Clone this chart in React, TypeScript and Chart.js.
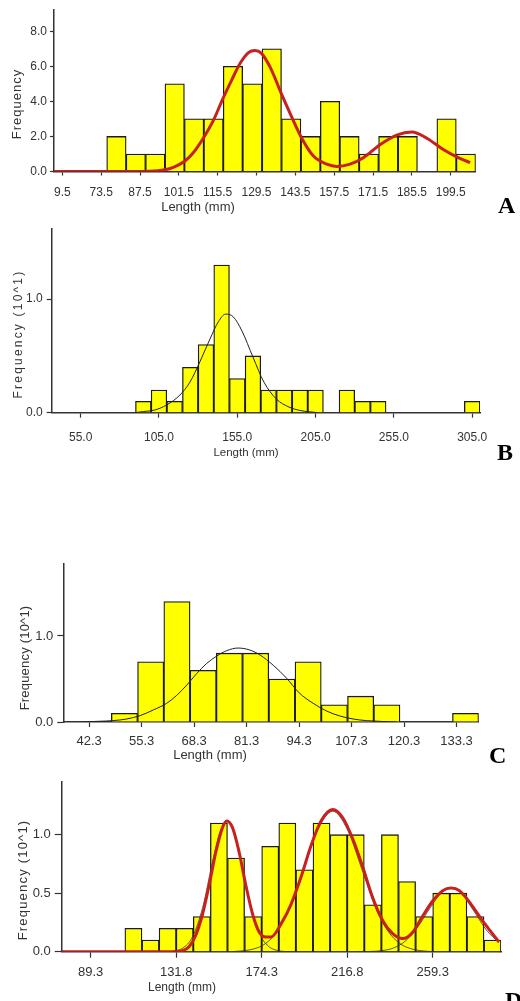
import React, { useEffect, useRef } from 'react';
import { Chart, registerables } from 'chart.js';

Chart.register(...registerables);

// ---------------- Panel A ----------------
const A_BIN_CENTERS = [79, 86, 93, 100, 107, 114, 121, 128, 135, 142, 149, 156, 163, 170, 177, 184, 191, 198, 205];
const A_FREQ = [2, 1, 1, 5, 3, 3, 6, 5, 7, 3, 2, 4, 2, 1, 2, 2, 0, 3, 1];
const A_CURVE_X = [56.5, 75, 91, 96.5, 99.5, 103.7, 106.7, 110.3, 113.9, 117.5, 120.5, 123.6, 126.6, 128.9, 131.2, 134.4, 138.6, 142.2, 145.8, 150, 154.8, 158.4, 163.2, 168, 174, 180, 185.5, 190.9, 196.8, 202.2, 206.5];
const A_CURVE_Y = [0, 0, 0.02, 0.1, 0.24, 0.6, 1.07, 1.9, 2.9, 4.2, 5.2, 6.17, 6.78, 6.9, 6.75, 5.95, 4.38, 3.1, 1.9, 0.88, 0.42, 0.29, 0.42, 0.79, 1.53, 2.08, 2.26, 1.9, 1.25, 0.79, 0.51];
const A_X_TICKS = [59.5, 73.5, 87.5, 101.5, 115.5, 129.5, 143.5, 157.5, 171.5, 185.5, 199.5];
const A_X_LABELS = ['9.5', '73.5', '87.5', '101.5', '115.5', '129.5', '143.5', '157.5', '171.5', '185.5', '199.5'];
const A_Y_TICKS = [0, 2, 4, 6, 8];

// ---------------- Panel B ----------------
const B_BIN_CENTERS = [95, 105, 115, 125, 135, 145, 155, 165, 175, 185, 195, 205, 215, 225, 235, 245, 255, 265, 275, 285, 295, 305];
const B_FREQ = [0.1, 0.2, 0.1, 0.4, 0.6, 1.3, 0.3, 0.5, 0.2, 0.2, 0.2, 0.2, 0, 0.2, 0.1, 0.1, 0, 0, 0, 0, 0, 0.1];
const B_CURVE_X = [89.5, 95, 102.4, 109.9, 118.4, 124.8, 131.2, 137.6, 142.9, 147.5, 152.4, 158, 165, 172, 180, 188, 195, 206.5];
const B_CURVE_Y = [0, 0.01, 0.024, 0.068, 0.156, 0.27, 0.45, 0.65, 0.8, 0.868, 0.845, 0.72, 0.49, 0.27, 0.12, 0.05, 0.02, 0];
const B_X_TICKS = [55, 105, 155, 205, 255, 305];
const B_X_LABELS = ['55.0', '105.0', '155.0', '205.0', '255.0', '305.0'];
const B_Y_TICKS = [0, 1];

// ---------------- Panel C ----------------
const C_BIN_CENTERS = [51.05, 57.55, 64.05, 70.55, 77.05, 83.55, 90.05, 96.55, 103.05, 109.55, 116.05, 122.55, 129.05, 135.55];
const C_FREQ = [0.1, 0.7, 1.4, 0.6, 0.8, 0.8, 0.5, 0.7, 0.2, 0.3, 0.2, 0, 0, 0.1];
const C_CURVE_X = [40.8, 44.5, 48.2, 51.6, 54.9, 58.2, 61.5, 64, 66.5, 69, 71.4, 73.9, 76.4, 79.2, 82.1, 84.6, 87.9, 91.2, 94.3, 97.8, 101.1, 104.4, 107.7, 111, 118.5];
const C_CURVE_Y = [0, 0.008, 0.016, 0.035, 0.074, 0.14, 0.217, 0.31, 0.43, 0.566, 0.68, 0.767, 0.83, 0.86, 0.837, 0.78, 0.66, 0.51, 0.34, 0.217, 0.128, 0.07, 0.035, 0.016, 0];
const C_X_TICKS = [42.3, 55.3, 68.3, 81.3, 94.3, 107.3, 120.3, 133.3];
const C_X_LABELS = ['42.3', '55.3', '68.3', '81.3', '94.3', '107.3', '120.3', '133.3'];
const C_Y_TICKS = [0, 1];

// ---------------- Panel D ----------------
const D_BIN_CENTERS = [110.55, 119.05, 127.55, 136.05, 144.55, 153.05, 161.55, 170.05, 178.55, 187.05, 195.55, 204.05, 212.55, 221.05, 229.55, 238.05, 246.55, 255.05, 263.55, 272.05, 280.55, 289.05];
const D_FREQ = [0.2, 0.1, 0.2, 0.2, 0.3, 1.1, 0.8, 0.3, 0.9, 1.1, 0.7, 1.1, 1.0, 1.0, 0.4, 1.0, 0.6, 0.3, 0.5, 0.5, 0.3, 0.1];
const D_CURVE_X = [74.9, 100, 130.7, 134.9, 138.2, 141.5, 144.9, 148.2, 151.5, 154.8, 157, 159.8, 163.1, 166.4, 169.8, 173.1, 176.4, 179, 184, 188.9, 193.9, 198.9, 203.8, 209.6, 214.6, 219.6, 224.5, 229.5, 234.5, 239.4, 244.4, 249.4, 254.4, 259.3, 264.3, 268.4, 272.6, 278.4, 283.4, 288.4, 292.2];
const D_CURVE_Y = [0, 0, 0, 0.008, 0.042, 0.14, 0.32, 0.57, 0.85, 1.06, 1.117, 1.06, 0.85, 0.57, 0.32, 0.167, 0.126, 0.126, 0.24, 0.405, 0.64, 0.91, 1.117, 1.215, 1.145, 0.963, 0.726, 0.46, 0.265, 0.154, 0.112, 0.167, 0.307, 0.433, 0.522, 0.544, 0.522, 0.405, 0.28, 0.167, 0.084];
const D_COMP1_X = [130, 135, 140, 145, 150, 153.5, 157, 160.5, 164, 169, 174, 178, 182, 187, 192];
const D_COMP1_Y = [0.005, 0.03, 0.13, 0.38, 0.78, 1.02, 1.117, 1.02, 0.78, 0.38, 0.13, 0.042, 0.011, 0.001, 0];
const D_COMP2_X = [160, 165, 170, 176, 182, 188, 195, 202, 209.6, 217, 224, 231, 237, 243, 249, 255, 260];
const D_COMP2_Y = [0.001, 0.008, 0.022, 0.067, 0.172, 0.365, 0.7, 1.036, 1.2, 1.04, 0.71, 0.373, 0.177, 0.07, 0.023, 0.006, 0];
const D_COMP3_X = [222, 228, 234, 240, 246, 252, 258, 263, 268.4, 274, 280, 286, 292.2];
const D_COMP3_Y = [0, 0.002, 0.009, 0.033, 0.095, 0.214, 0.374, 0.49, 0.544, 0.488, 0.341, 0.185, 0.076];
const D_X_TICKS = [89.3, 131.8, 174.3, 216.8, 259.3];
const D_X_LABELS = ['89.3', '131.8', '174.3', '216.8', '259.3'];
const D_Y_TICKS = [0, 0.5, 1];

// ---------------- Texts ----------------
const LENGTH_TITLE = 'Length (mm)';
const FREQ_TITLE_A = 'Frequency';
const FREQ_TITLE = 'Frequency (10^1)';

const SANS = '"Liberation Sans", Arial, Helvetica, sans-serif';
const SERIF = '"Liberation Serif", "Times New Roman", serif';
const TEXT = '#333333';
const AXIS = '#333333';
const YELLOW = '#FFFF00';
const BAR_EDGE = '#1a1a1a';
const RED = '#C8201E';

const pts = (xs: number[], ys: number[]) => xs.map((x, i) => ({ x, y: ys[i] }));

type Panel = any;

const PANELS: Panel[] = [
  {
    canvasTop: 0, canvasHeight: 217,
    area: { left: 54, top: 5, right: 475.7, bottom: 171.5 },
    xMin: 56.5, xMax: 208.5, yMax: 9.2,
    bins: A_BIN_CENTERS, freq: A_FREQ,
    curves: [{ x: A_CURVE_X, y: A_CURVE_Y, color: RED, width: 3 }],
    xTicks: A_X_TICKS, xLabels: A_X_LABELS, yTicks: A_Y_TICKS,
    tickFont: 12, xTickLen: 4, xPad: 10, yTickLen: 4, yPad: 3,
    yTitle: { text: FREQ_TITLE_A, x: 17.5, y: 104, size: 13, spacing: 1 },
    xTitle: { text: LENGTH_TITLE, x: 198, y: 207, size: 13, spacing: 0 },
    letter: { text: 'A', x: 498, y: 213 },
  },
  {
    canvasTop: 218, canvasHeight: 246,
    area: { left: 51.7, top: 229, right: 480, bottom: 412.7 },
    xMin: 36.5, xMax: 310, yMax: 1.616,
    bins: B_BIN_CENTERS, freq: B_FREQ,
    curves: [{ x: B_CURVE_X, y: B_CURVE_Y, color: '#222222', width: 1 }],
    xTicks: B_X_TICKS, xLabels: B_X_LABELS, yTicks: B_Y_TICKS,
    tickFont: 12, xTickLen: 5, xPad: 13, yTickLen: 5, yPad: 4,
    yTitle: { text: FREQ_TITLE, x: 19, y: 334, size: 12, spacing: 2.2 },
    xTitle: { text: LENGTH_TITLE, x: 246, y: 453, size: 11.5, spacing: 0 },
    letter: { text: 'B', x: 497, y: 460 },
  },
  {
    canvasTop: 548, canvasHeight: 220,
    area: { left: 63.3, top: 564, right: 478.7, bottom: 722 },
    xMin: 35.9, xMax: 138.8, yMax: 1.837,
    bins: C_BIN_CENTERS, freq: C_FREQ,
    curves: [{ x: C_CURVE_X, y: C_CURVE_Y, color: '#222222', width: 1 }],
    xTicks: C_X_TICKS, xLabels: C_X_LABELS, yTicks: C_Y_TICKS,
    tickFont: 13, xTickLen: 5, xPad: 7, yTickLen: 6, yPad: 4,
    yTitle: { text: FREQ_TITLE, x: 25, y: 658, size: 13, spacing: 0.2 },
    xTitle: { text: LENGTH_TITLE, x: 210, y: 755.5, size: 13, spacing: 0 },
    letter: { text: 'C', x: 489, y: 763 },
  },
  {
    canvasTop: 770, canvasHeight: 231,
    area: { left: 61.7, top: 778.3, right: 501.1, bottom: 951.7 },
    xMin: 74.9, xMax: 293.3, yMax: 1.452,
    bins: D_BIN_CENTERS, freq: D_FREQ,
    comps: [
      { x: D_COMP1_X, y: D_COMP1_Y },
      { x: D_COMP2_X, y: D_COMP2_Y },
      { x: D_COMP3_X, y: D_COMP3_Y },
    ],
    curves: [{ x: D_CURVE_X, y: D_CURVE_Y, color: RED, width: 3 }],
    xTicks: D_X_TICKS, xLabels: D_X_LABELS, yTicks: D_Y_TICKS,
    tickFont: 13, xTickLen: 6, xPad: 7, yTickLen: 7, yPad: 4,
    yTitle: { text: FREQ_TITLE, x: 23, y: 880, size: 13, spacing: 1.2 },
    xTitle: { text: LENGTH_TITLE, x: 182, y: 988, size: 12, spacing: 0 },
    letter: { text: 'D', x: 505, y: 1008 },
  },
];

function buildChart(canvas: HTMLCanvasElement, p: Panel) {
  const top = p.canvasTop;
  const textPlugin = {
    id: 'panelText' + top,
    afterDraw(chart: any) {
      const ctx = chart.ctx as any;
      // y title
      ctx.save();
      ctx.fillStyle = TEXT;
      ctx.font = `${p.yTitle.size}px ${SANS}`;
      ctx.letterSpacing = `${p.yTitle.spacing}px`;
      ctx.textAlign = 'center';
      ctx.textBaseline = 'middle';
      ctx.translate(p.yTitle.x, p.yTitle.y - top);
      ctx.rotate(-Math.PI / 2);
      ctx.fillText(p.yTitle.text, 0, 0);
      ctx.restore();
      // x title
      ctx.save();
      ctx.fillStyle = TEXT;
      ctx.font = `${p.xTitle.size}px ${SANS}`;
      ctx.letterSpacing = `${p.xTitle.spacing}px`;
      ctx.textAlign = 'center';
      ctx.textBaseline = 'middle';
      ctx.fillText(p.xTitle.text, p.xTitle.x, p.xTitle.y - top);
      ctx.restore();
      // panel letter
      ctx.save();
      ctx.fillStyle = '#000000';
      ctx.font = `bold 24px ${SERIF}`;
      ctx.textAlign = 'left';
      ctx.textBaseline = 'alphabetic';
      ctx.fillText(p.letter.text, p.letter.x, p.letter.y - top);
      ctx.restore();
    },
  };

  const datasets: any[] = [
    {
      type: 'bar',
      data: pts(p.bins, p.freq),
      backgroundColor: YELLOW,
      borderColor: BAR_EDGE,
      borderWidth: 1.3,
      barPercentage: 1,
      categoryPercentage: 1,
      order: 3,
    },
  ];
  (p.comps || []).forEach((c: any) => {
    datasets.push({
      type: 'line',
      data: pts(c.x, c.y),
      borderColor: '#333333',
      borderWidth: 0.8,
      pointRadius: 0,
      fill: false,
      cubicInterpolationMode: 'monotone',
      order: 2,
    });
  });
  p.curves.forEach((c: any) => {
    datasets.push({
      type: 'line',
      data: pts(c.x, c.y),
      borderColor: c.color,
      borderWidth: c.width,
      pointRadius: 0,
      fill: false,
      cubicInterpolationMode: 'monotone',
      order: 1,
    });
  });

  const gridCfg = (len: number) => ({
    display: true,
    drawOnChartArea: false,
    drawTicks: true,
    tickLength: len,
    tickColor: AXIS,
    tickWidth: 1.2,
  });

  return new Chart(canvas, {
    type: 'bar',
    data: { datasets },
    plugins: [textPlugin],
    options: {
      responsive: false,
      animation: false,
      devicePixelRatio: 1,
      layout: {
        padding: { left: 0, top: p.area.top - top, right: 520 - p.area.right, bottom: 0 },
      },
      plugins: { legend: { display: false }, tooltip: { enabled: false }, title: { display: false } },
      scales: {
        x: {
          type: 'linear',
          min: p.xMin,
          max: p.xMax,
          offset: false,
          afterBuildTicks: (s: any) => { s.ticks = p.xTicks.map((v: number) => ({ value: v })); },
          afterFit: (s: any) => { s.height = p.canvasHeight - (p.area.bottom - top); },
          ticks: {
            autoSkip: false, maxRotation: 0, minRotation: 0,
            padding: p.xPad,
            color: TEXT,
            font: { family: SANS, size: p.tickFont },
            callback: (_v: any, i: number) => p.xLabels[i],
          },
          grid: { ...gridCfg(p.xTickLen), offset: false },
          border: { display: true, color: AXIS, width: 1.5 },
        },
        y: {
          type: 'linear',
          min: 0,
          max: p.yMax,
          afterBuildTicks: (s: any) => { s.ticks = p.yTicks.map((v: number) => ({ value: v })); },
          afterFit: (s: any) => { s.width = p.area.left; },
          ticks: {
            autoSkip: false,
            padding: p.yPad,
            color: TEXT,
            font: { family: SANS, size: p.tickFont },
            callback: (v: any) => Number(v).toFixed(1),
          },
          grid: gridCfg(p.yTickLen),
          border: { display: true, color: AXIS, width: 1.5 },
        },
      },
    } as any,
  });
}

export default function App() {
  const refs = useRef<(HTMLCanvasElement | null)[]>([]);
  useEffect(() => {
    document.body.style.margin = '0';
    document.body.style.overflow = 'hidden';
    document.documentElement.style.overflow = 'hidden';
    const charts = PANELS.map((p, i) => buildChart(refs.current[i] as HTMLCanvasElement, p));
    return () => charts.forEach((c) => c.destroy());
  }, []);
  return (
    <div style={{ position: 'relative', width: 520, height: 1001, background: '#ffffff', overflow: 'hidden' }}>
      {PANELS.map((p, i) => (
        <canvas
          key={i}
          ref={(el) => { refs.current[i] = el; }}
          width={520}
          height={p.canvasHeight}
          style={{ position: 'absolute', left: 0, top: p.canvasTop, width: 520, height: p.canvasHeight, display: 'block' }}
        />
      ))}
    </div>
  );
}
